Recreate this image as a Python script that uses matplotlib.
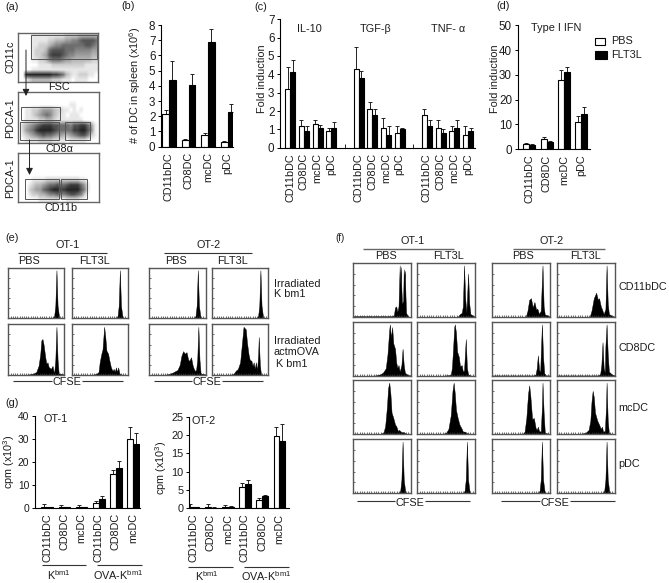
import numpy as np
import matplotlib
matplotlib.use('Agg')
import matplotlib.pyplot as plt
from matplotlib.patches import Rectangle

plt.rcParams['font.family'] = ['Liberation Sans', 'DejaVu Sans']
plt.rcParams['mathtext.fontset'] = 'custom'
plt.rcParams['mathtext.rm'] = 'Liberation Sans'
plt.rcParams['mathtext.default'] = 'rm'

W, H = 669, 583
TXT = '#1c1c1c'
FS = 7.8

# ---------- bar data ----------
dc4 = ['CD11bDC', 'CD8DC', 'mcDC', 'pDC']
dc3 = ['CD11bDC', 'CD8DC', 'mcDC', 'CD11bDC', 'CD8DC', 'mcDC']

b_pbs = [2.15, 0.45, 0.75, 0.28]
b_pbs_top = [2.4, 0.52, 0.88, 0.38]
b_flt = [4.4, 4.05, 6.9, 2.3]
b_flt_top = [5.65, 4.75, 7.75, 2.8]

c_pos = [0, 1, 2, 3, 5, 6, 7, 8, 10, 11, 12, 13]
c_pbs = [3.2, 1.2, 1.3, 0.9, 4.3, 2.1, 1.1, 0.8, 1.8, 1.1, 0.9, 0.7]
c_pbs_top = [4.4, 1.5, 1.5, 1.1, 5.5, 2.5, 1.6, 1.2, 2.1, 1.5, 1.2, 1.2]
c_flt = [4.1, 0.9, 1.1, 1.1, 3.8, 1.8, 0.7, 1.0, 1.2, 0.8, 1.1, 0.9]
c_flt_top = [4.8, 1.2, 1.25, 1.4, 4.2, 2.1, 1.2, 1.1, 1.5, 1.0, 1.5, 1.1]

d_pbs = [2, 4, 28, 11]
d_pbs_top = [2.3, 5, 32, 13.3]
d_flt = [1.7, 3, 31, 14]
d_flt_top = [2, 3.4, 33.2, 16.8]

g1_pbs = [0.2, 0.3, 0.3, 2.2, 14.5, 30]
g1_pbs_top = [1.5, 1, 1, 3, 16.5, 35]
g1_flt = [0.2, 0.2, 0.2, 3.8, 17.3, 28]
g1_flt_top = [0.5, 0.3, 0.3, 5, 20.2, 32.5]

g2_pbs = [0.2, 0.2, 0.2, 5.8, 2.2, 19.8]
g2_pbs_top = [1.2, 1, 0.8, 6.9, 2.7, 22.3]
g2_flt = [0.2, 0.1, 0.2, 6.7, 3.2, 18.5]
g2_flt_top = [0.4, 0.3, 0.5, 7.8, 3.6, 23]

# ---------- dot plot densities (darkness 0-9, read by eye) ----------
dens_fsc = ["000011111111112222333333",
            "000011111223334455677776",
            "000011222345566666667765",
            "000012223677776665555544",
            "000012234788876554444433",
            "000011223566654433333322",
            "000000111122222222221111",
            "000011111111111111111111",
            "009999999988763211222110",
            "001233333322211101111000"]
dens_cd8 = ["000000000000000000000000",
            "000000000000000000000000",
            "000000000000000110000000",
            "001122344432211010100000",
            "001123456532110111000000",
            "001111223321111111100000",
            "023456788877666577886410",
            "024568999987666688997510",
            "012345676654433456775210",
            "001111222211110111110000"]
dens_cd11b = ["000000000000000000000000",
              "000000000000000000000000",
              "000000000000000000000000",
              "000000000000000000000000",
              "000000000000000000000000",
              "000011112222222222110000",
              "000123345667667888641000",
              "000234467899889999751000",
              "000122334556556776520000",
              "000000111111001111000000"]

# ---------- CFSE histograms (x = % of channel range, y = % of panel height) ----------
spike_x = [0, 80, 82, 84, 85, 86, 87, 88, 90, 91, 100]
spike_y = [0.5, 1, 5, 25, 60, 95, 60, 25, 8, 1, 0.5]

e_ot1_pbs_x = [30, 36, 45, 50, 54, 57, 59, 61, 63, 66, 68, 70, 72, 74, 76, 78, 79, 81, 82, 84, 86, 88, 90, 100]
e_ot1_pbs_y = [0, 1, 3, 6, 18, 40, 68, 71, 60, 35, 22, 25, 16, 14, 12, 16, 18, 6, 5, 30, 95, 30, 3, 1]
e_ot1_flt_x = [30, 40, 45, 48, 50, 53, 55, 57, 58, 60, 62, 65, 67, 70, 73, 75, 77, 79, 81, 83, 85, 87, 100]
e_ot1_flt_y = [0, 1, 3, 6, 25, 42, 50, 80, 95, 75, 48, 42, 30, 15, 8, 12, 6, 15, 6, 15, 4, 1, 0]
e_ot2_pbs_x = [25, 35, 42, 50, 54, 57, 60, 63, 66, 69, 71, 74, 77, 79, 81, 83, 85, 87, 89, 91, 100]
e_ot2_pbs_y = [0, 2, 5, 10, 20, 38, 47, 42, 45, 30, 28, 35, 18, 12, 8, 10, 30, 95, 30, 3, 1]
e_ot2_flt_x = [30, 38, 42, 46, 50, 53, 56, 60, 62, 65, 67, 70, 72, 74, 76, 78, 80, 82, 83, 85, 87, 100]
e_ot2_flt_y = [0, 2, 8, 12, 25, 60, 95, 90, 65, 40, 30, 28, 18, 25, 12, 25, 8, 40, 75, 20, 1, 0]

f1_ot1_pbs_x = [0, 68, 71, 73, 75, 77, 79, 81, 82, 83, 84, 85, 87, 88, 89, 90, 91, 92, 94, 96, 100]
f1_ot1_pbs_y = [2, 2, 4, 18, 20, 10, 20, 95, 60, 92, 50, 25, 30, 88, 70, 85, 40, 8, 4, 1, 1]
f1_ot1_flt_x = [0, 70, 74, 77, 79, 81, 83, 85, 86, 88, 90, 92, 95, 100]
f1_ot1_flt_y = [1, 1, 6, 8, 20, 95, 35, 8, 30, 80, 25, 6, 4, 1]
f1_ot2_pbs_x = [0, 58, 61, 64, 67, 70, 73, 76, 78, 81, 84, 87, 89, 91, 95, 100]
f1_ot2_pbs_y = [1, 1, 12, 32, 35, 18, 28, 14, 16, 6, 12, 95, 20, 5, 4, 1]
f1_ot2_flt_x = [0, 57, 60, 64, 68, 71, 73, 76, 78, 81, 84, 86, 88, 90, 95, 100]
f1_ot2_flt_y = [1, 1, 12, 35, 45, 32, 35, 20, 15, 6, 15, 95, 25, 6, 3, 1]

f2_ot1_pbs_x = [20, 40, 47, 52, 57, 60, 63, 64, 66, 68, 70, 73, 75, 77, 79, 81, 84, 86, 88, 90, 95, 100]
f2_ot1_pbs_y = [0, 1, 3, 6, 14, 40, 85, 95, 70, 90, 60, 50, 25, 15, 20, 8, 20, 50, 20, 6, 2, 1]
f2_ot1_flt_x = [40, 58, 60, 62, 64, 65, 67, 69, 72, 74, 77, 79, 81, 84, 86, 88, 92, 100]
f2_ot1_flt_y = [0, 2, 15, 50, 90, 95, 80, 45, 35, 18, 20, 8, 10, 68, 15, 3, 1, 0]
f2_ot2_pbs_x = [0, 72, 75, 77, 79, 81, 83, 84, 86, 88, 90, 93, 100]
f2_ot2_pbs_y = [1, 1, 3, 14, 38, 12, 6, 40, 95, 35, 5, 1, 1]
f2_ot2_flt_x = [0, 72, 75, 77, 79, 81, 83, 84, 86, 88, 90, 95, 100]
f2_ot2_flt_y = [1, 1, 4, 20, 62, 15, 6, 55, 95, 40, 8, 3, 1]

f3_ot1_pbs_x = [30, 48, 53, 56, 59, 61, 63, 65, 67, 70, 73, 75, 78, 80, 84, 88, 92, 100]
f3_ot1_pbs_y = [0, 1, 3, 15, 50, 85, 95, 75, 40, 30, 18, 15, 6, 8, 4, 4, 1, 0]
f3_ot1_flt_x = [30, 45, 50, 54, 58, 61, 63, 65, 67, 70, 73, 77, 79, 82, 86, 90, 100]
f3_ot1_flt_y = [0, 1, 3, 10, 35, 80, 95, 75, 45, 30, 18, 10, 5, 5, 2, 1, 0]
f3_ot2_pbs_x = [30, 53, 56, 59, 62, 64, 66, 69, 72, 75, 77, 79, 81, 84, 86, 87, 89, 91, 100]
f3_ot2_pbs_y = [0, 1, 5, 30, 75, 90, 70, 28, 30, 12, 8, 14, 6, 5, 50, 95, 40, 3, 0]
f3_ot2_flt_x = [30, 42, 50, 55, 58, 60, 62, 64, 66, 70, 73, 76, 78, 80, 83, 85, 86, 88, 90, 100]
f3_ot2_flt_y = [0, 1, 3, 8, 25, 60, 80, 68, 40, 25, 18, 10, 14, 5, 6, 50, 95, 25, 2, 0]


fig = plt.figure(figsize=(W / 100, H / 100), dpi=100)


def px_axes(x0, y0, x1, y1):
    return fig.add_axes([x0 / W, 1 - y1 / H, (x1 - x0) / W, (y1 - y0) / H])


# overlay in picture pixels, for every free label and rule
ov = fig.add_axes([0, 0, 1, 1], zorder=10)
ov.set_xlim(0, W)
ov.set_ylim(H, 0)
ov.axis('off')
ov.patch.set_alpha(0)


def label(x, y, s, size=FS, rot=0, ha='center', color=TXT):
    ov.text(x, y, s, fontsize=size, rotation=rot, ha=ha, va='center', color=color)


def rule(x0, x1, y, lw=0.8, color='#333333'):
    ov.plot([x0, x1], [y, y], color=color, lw=lw, solid_capstyle='butt')


def bar_panel(rect, pos, first_px, step_px, bar_px, pbs, pbs_top, flt, flt_top, ymax, yticks, names, tick_size=FS + 0.6):
    ax = px_axes(*rect)
    pos = np.array(pos, dtype=float)
    w = bar_px / step_px
    ax.set_xlim((rect[0] - first_px) / step_px, (rect[2] - first_px) / step_px)
    ax.set_ylim(0, ymax)
    for xs, vals, tops, col in [(pos - w / 2, pbs, pbs_top, 'white'), (pos + w / 2, flt, flt_top, 'black')]:
        vals = np.array(vals, dtype=float)
        tops = np.array(tops, dtype=float)
        ax.errorbar(xs, vals, yerr=[np.zeros(len(vals)), tops - vals], fmt='none', ecolor='#222222',
                    elinewidth=0.7, capsize=1.1, capthick=0.7, zorder=1)
        ax.bar(xs, vals, width=w, color=col, edgecolor='black', linewidth=0.8, zorder=2)
    ax.set_yticks(yticks)
    ax.set_xticks(pos)
    ax.set_xticklabels(names, rotation=90, fontsize=FS, color=TXT)
    ax.tick_params(axis='x', length=0, pad=4)
    ax.tick_params(axis='y', length=2.5, width=0.7, pad=1.5, labelsize=tick_size, labelcolor=TXT)
    ax.spines['top'].set_visible(False)
    ax.spines['right'].set_visible(False)
    ax.spines['left'].set_linewidth(0.8)
    ax.spines['bottom'].set_linewidth(0.8)
    return ax


def dot_panel(rect, dens, gates):
    ax = px_axes(*rect)
    grid = np.array([[int(c) for c in row] for row in dens], dtype=float)
    ax.imshow(grid, cmap='gray_r', vmin=0, vmax=10.5, aspect='auto', interpolation='bilinear',
              extent=[rect[0], rect[2], rect[3], rect[1]])
    ax.set_xticks([])
    ax.set_yticks([])
    for s in ax.spines.values():
        s.set_color('#666666')
        s.set_linewidth(1.0)
    for g in gates:
        ax.add_patch(Rectangle((g[0], g[1]), g[2] - g[0], g[3] - g[1], fill=False, ec='#555555', lw=0.7))


def hist_panel(rect, xs, ys):
    ax = px_axes(*rect)
    ax.fill_between(xs, ys, 0, color='black', lw=0.3)
    ax.set_xlim(0, 100)
    ax.set_ylim(0, 100)
    ax.set_xticks(np.arange(0, 101, 4))
    ax.set_yticks(np.arange(0, 101, 20))
    ax.tick_params(direction='in', length=1.2, width=0.5, labelbottom=False, labelleft=False, color='#333333')
    for s in ax.spines.values():
        s.set_color('#555555')
        s.set_linewidth(1.0)


# ---------- (a) ----------
label(12, 7, '(a)')
dot_panel((18, 33, 98, 82), dens_fsc, [(30.5, 34.5, 97.5, 59)])
dot_panel((18, 92, 99, 143), dens_cd8, [(20.5, 106.5, 60, 120), (20, 121.5, 59, 140), (64.5, 121.5, 89.5, 140)])
dot_panel((18, 153, 99, 202), dens_cd11b, [(25, 179, 59, 198.5), (61, 179, 87, 198.5)])
label(10, 57, 'CD11c', rot=90)
label(59, 87.5, 'FSC')
label(10, 118, 'PDCA-1', rot=90)
label(59, 149, 'CD8α')
label(10, 178, 'PDCA-1', rot=90)
label(61, 208, 'CD11b')
ov.annotate('', xy=(26, 96), xytext=(26, 50), arrowprops=dict(arrowstyle='-|>,head_width=0.2,head_length=0.4', color='#222222', lw=0.7, shrinkA=0, shrinkB=0))
ov.annotate('', xy=(29.5, 175), xytext=(29.5, 140), arrowprops=dict(arrowstyle='-|>,head_width=0.2,head_length=0.4', color='#222222', lw=0.7, shrinkA=0, shrinkB=0))

# ---------- (b) ----------
label(128, 6, '(b)')
bar_panel((161, 25, 233, 146.7), range(4), 169, 19.5, 6.6, b_pbs, b_pbs_top, b_flt, b_flt_top, 8, range(9), dc4)
label(135, 85, '# of DC in spleen (x10$^{6}$)', rot=90)

# ---------- (c) ----------
label(261, 7, '(c)')
ax_c = bar_panel((280, 19.3, 475, 147.7), c_pos, 290.3, 13.67, 5.1, c_pbs, c_pbs_top, c_flt, c_flt_top, 7, range(8), dc4 * 3)
ax_c.vlines([4, 9], 0, 0.2, color='#222222', lw=0.7)
label(262, 79, 'Fold induction', rot=90)
label(309.5, 29, 'IL-10')
label(375.5, 29, 'TGF-β')
label(448, 29, 'TNF- α')

# ---------- (d) ----------
label(503, 6, '(d)')
bar_panel((517.5, 25.3, 590, 149), range(4), 529.3, 17.3, 6, d_pbs, d_pbs_top, d_flt, d_flt_top, 50, range(0, 51, 10), dc4)
label(495, 79, 'Fold induction', rot=90)
label(556, 28, 'Type I IFN')
ov.add_patch(Rectangle((594.5, 37.5), 10.5, 7, fc='white', ec='black', lw=0.8))
ov.add_patch(Rectangle((594.5, 51), 12, 8, fc='black', ec='black', lw=0.8))
label(611, 40.5, 'PBS', ha='left')
label(611, 55, 'FLT3L', ha='left')

# ---------- (e) ----------
label(12, 238, '(e)')
e_cols = [(8.3, 64.3), (71.7, 127.7), (149.3, 205.7), (212, 268.3)]
e_tops = [(spike_x, spike_y)] * 4
e_bots = [(e_ot1_pbs_x, e_ot1_pbs_y), (e_ot1_flt_x, e_ot1_flt_y), (e_ot2_pbs_x, e_ot2_pbs_y), (e_ot2_flt_x, e_ot2_flt_y)]
for (x0, x1), t, b in zip(e_cols, e_tops, e_bots):
    hist_panel((x0, 267.7, x1, 318.3), t[0], t[1])
    hist_panel((x0, 324.3, x1, 375), b[0], b[1])
label(68, 245, 'OT-1')
rule(18, 107, 253.3)
label(29, 261, 'PBS')
label(94, 261, 'FLT3L')
label(209, 245, 'OT-2')
rule(164, 252, 253.3)
label(176, 261, 'PBS')
label(233, 261, 'FLT3L')
label(274, 284, 'Irradiated', ha='left')
label(274, 294, 'K bm1', ha='left')
label(274, 341, 'Irradiated', ha='left')
label(274, 352, 'actmOVA', ha='left')
label(276, 364, 'K bm1', ha='left')
rule(13, 52, 380.5)
rule(82, 123, 380.5)
label(67, 382, 'CFSE')
rule(154, 192, 380.5)
rule(222, 263, 380.5)
label(207, 382, 'CFSE')

# ---------- (f) ----------
label(340, 238, '(f)', size=7)
f_cols = [(352.7, 410.7), (417.3, 475), (492.3, 550), (556.7, 614.7)]
f_rows = [(262.7, 317.3), (321.7, 376), (380, 434.3), (439, 493.3)]
f_data = [[(f1_ot1_pbs_x, f1_ot1_pbs_y), (f1_ot1_flt_x, f1_ot1_flt_y), (f1_ot2_pbs_x, f1_ot2_pbs_y), (f1_ot2_flt_x, f1_ot2_flt_y)],
          [(f2_ot1_pbs_x, f2_ot1_pbs_y), (f2_ot1_flt_x, f2_ot1_flt_y), (f2_ot2_pbs_x, f2_ot2_pbs_y), (f2_ot2_flt_x, f2_ot2_flt_y)],
          [(f3_ot1_pbs_x, f3_ot1_pbs_y), (f3_ot1_flt_x, f3_ot1_flt_y), (f3_ot2_pbs_x, f3_ot2_pbs_y), (f3_ot2_flt_x, f3_ot2_flt_y)],
          [(spike_x, spike_y)] * 4]
for (y0, y1), row in zip(f_rows, f_data):
    for (x0, x1), d in zip(f_cols, row):
        hist_panel((x0, y0, x1, y1), d[0], d[1])
label(412.7, 240.5, 'OT-1')
rule(363.3, 454.3, 248.7, lw=1.0, color='#666666')
label(386, 256, 'PBS')
label(449, 256, 'FLT3L')
label(552, 240.5, 'OT-2')
rule(513, 605, 248.7, lw=1.0, color='#666666')
label(523, 256, 'PBS')
label(585.7, 256, 'FLT3L')
label(618.7, 287, 'CD11bDC', ha='left')
label(618.7, 347.7, 'CD8DC', ha='left')
label(618.7, 408, 'mcDC', ha='left')
label(618.7, 464, 'pDC', ha='left')
rule(356.7, 395, 501.3)
rule(425, 469.7, 501.3)
label(410, 502.7, 'CFSE')
rule(501, 540, 501.3)
rule(570, 614.7, 501.3)
label(555, 502.7, 'CFSE')

# ---------- (g) ----------
label(12, 403, '(g)')
bar_panel((35, 416, 139.5, 507.7), range(6), 47.3, 17.1, 5.9, g1_pbs, g1_pbs_top, g1_flt, g1_flt_top, 40, range(0, 41, 10), dc3, tick_size=7.4)
label(9.5, 462, 'cpm (x10$^{3}$)', rot=90)
label(44, 419, 'OT-1', ha='left')
bar_panel((189.3, 417, 288.5, 508), range(6), 193.4, 17.2, 5.9, g2_pbs, g2_pbs_top, g2_flt, g2_flt_top, 25, range(0, 26, 5), dc3, tick_size=7.8)
label(161, 468, 'cpm (x10$^{3}$)', rot=90)
label(192, 420.5, 'OT-2', ha='left')
rule(41.7, 86, 565)
rule(97, 141.7, 565)
label(59, 575, 'K$^{\\mathrm{bm1}}$')
label(118, 575, 'OVA-K$^{\\mathrm{bm1}}$')
rule(188, 232.7, 567)
rule(244, 288.7, 567)
label(207, 576, 'K$^{\\mathrm{bm1}}$')
label(265.7, 576, 'OVA-K$^{\\mathrm{bm1}}$')

fig.savefig('out.png', dpi=100)
